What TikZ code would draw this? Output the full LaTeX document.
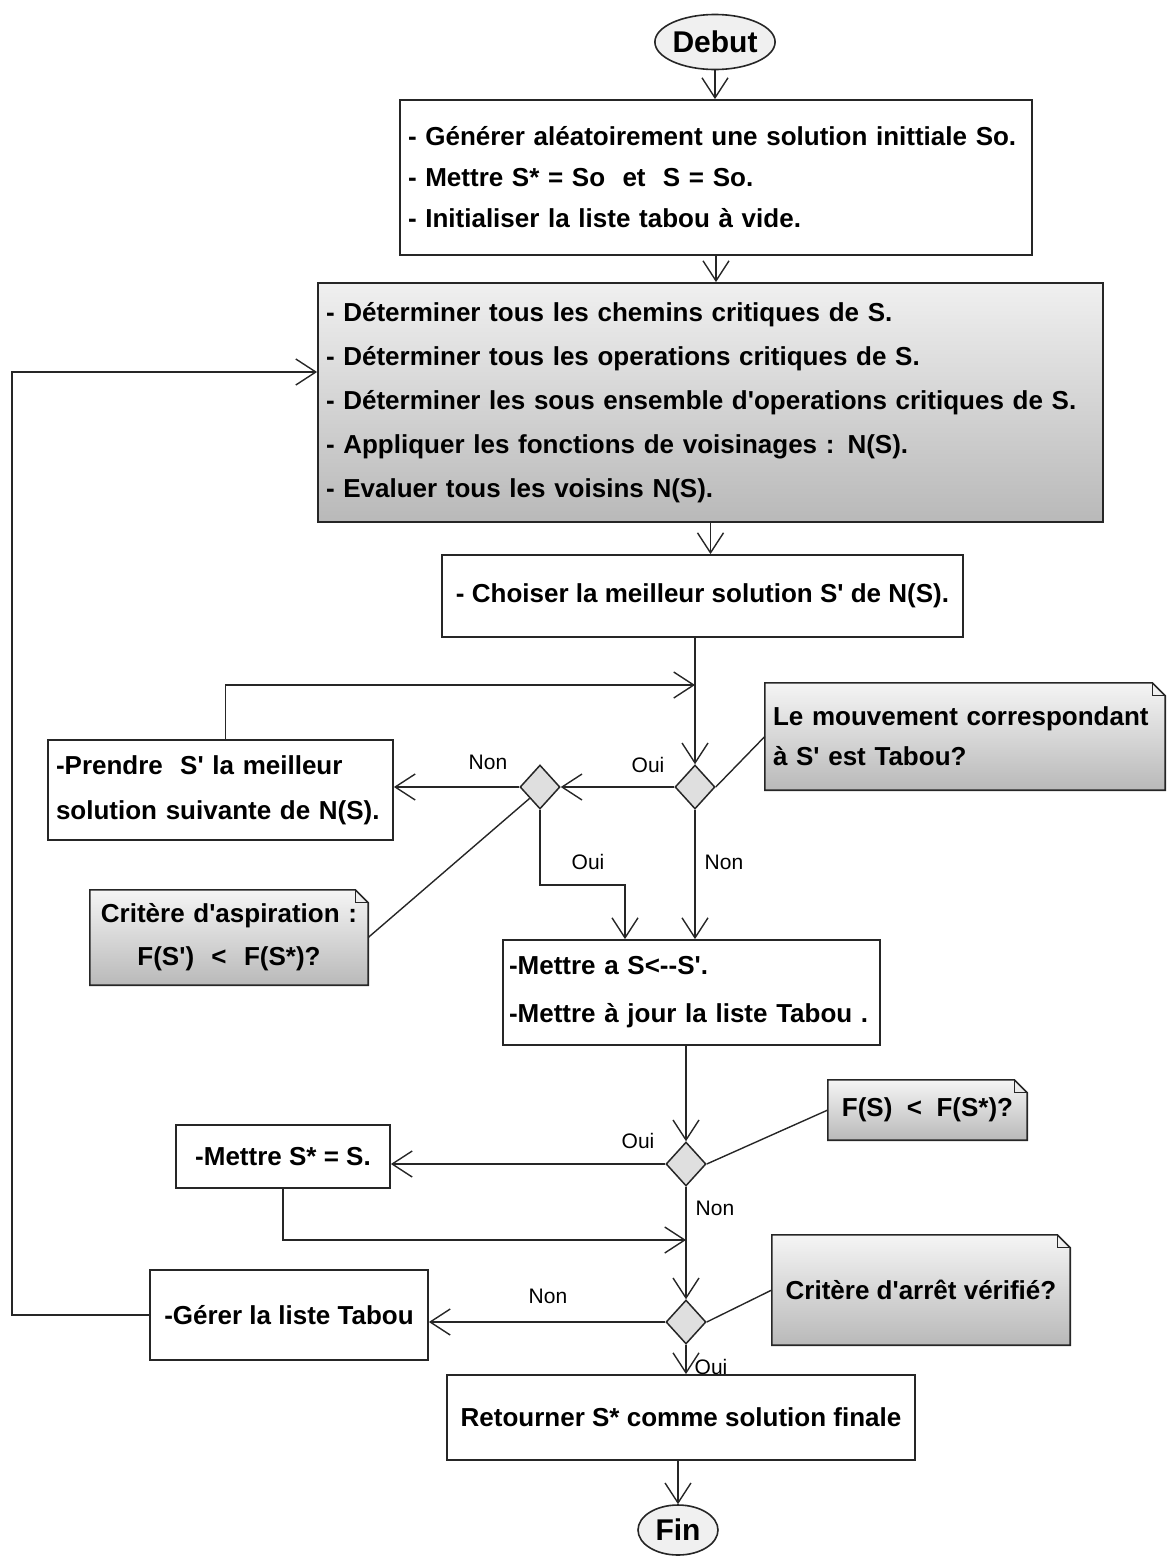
\documentclass[tikz,border=0pt]{standalone}
\usepackage{fontspec}
\newfontfamily\lsans{Liberation Sans}
\usetikzlibrary{shapes.geometric, arrows.meta, calc, backgrounds}

% dog-eared note outline with a vertical grey shading, drawn behind the node
\newcommand\drawnote[1]{%
  \begin{scope}[on background layer]
    \shadedraw[top color=gray!8, bottom color=gray!55, draw=black!85, line width=1.6pt]
      (#1.north west) -- ($(#1.north east)+(-13,0)$) -- ($(#1.north east)+(0,13)$)
      -- (#1.south east) -- (#1.south west) -- cycle;
    \draw[black!85, line width=1pt]
      ($(#1.north east)+(-13,0)$) -- ($(#1.north east)+(-13,13)$) -- ($(#1.north east)+(0,13)$);
  \end{scope}}

\begin{document}
\begin{tikzpicture}[x=1pt, y=-1pt,
  txt/.style={font=\lsans\bfseries\fontsize{26}{43}\selectfont},
  box/.style={draw=black!85, line width=1.8pt, fill=white, inner xsep=8pt, inner ysep=0pt, txt},
  note/.style={inner xsep=8pt, inner ysep=0pt, txt},
  lbl/.style={font=\lsans\fontsize{21}{24}\selectfont},
  decision/.style={diamond, draw=black!85, line width=1.5pt, fill=gray!25,
    minimum width=40pt, minimum height=44pt, inner sep=0pt},
  terminal/.style={ellipse, draw=black!85, line width=1.6pt, fill=gray!12, inner sep=0pt,
    font=\lsans\bfseries\fontsize{30}{32}\selectfont},
  arr/.style={draw=black!85, line width=1.4pt,
    -{Straight Barb[length=20pt, width=26pt, line width=1.4pt]}},
  link/.style={draw=black!85, line width=1.4pt}
]
\useasboundingbox (0,0) rectangle (1169,1556);

% ---- start / end
\node[terminal, minimum width=118pt, minimum height=55pt] (deb) at (715,42) {Debut};
\node[terminal, minimum width=80pt, minimum height=50pt] (fin) at (678,1530) {Fin};

% ---- process boxes
\node[box, text width=616pt, minimum height=155pt, align=left, font=\lsans\bfseries\fontsize{26}{41}\selectfont]
  (b1) at (716,177.5)
  {- Générer aléatoirement une solution inittiale So.\\
   - Mettre S* = So\ \ et\ \ S = So.\\
   - Initialiser la liste tabou à vide.};

\node[box, text width=769pt, minimum height=239pt, align=left,
  top color=gray!12, bottom color=gray!55, font=\lsans\bfseries\fontsize{26}{44}\selectfont]
  (b2) at (710.5,402.5)
  {- Déterminer tous les chemins critiques de S.\\
   - Déterminer tous les operations critiques de S.\\
   - Déterminer les sous ensemble d'operations critiques de S.\\
   - Appliquer les fonctions de voisinages : N(S).\\
   - Evaluer tous les voisins N(S).};

\node[box, minimum width=521pt, minimum height=82pt] (b3) at (702.5,596)
  {- Choiser la meilleur solution S' de N(S).};

\node[box, text width=329pt, minimum height=100pt, align=left, font=\lsans\bfseries\fontsize{26}{45}\selectfont]
  (p) at (220.5,790)
  {-Prendre\ \ S' la meilleur\\ solution suivante de N(S).};

\node[box, text width=365pt, inner xsep=6pt, minimum height=105pt, align=left, font=\lsans\bfseries\fontsize{26}{48}\selectfont]
  (b4) at (691.5,992.5)
  {-Mettre a S<-{}-S'.\\ -Mettre à jour la liste Tabou .};

\node[box, minimum width=214pt, minimum height=63pt] (b5) at (283,1156.5) {-Mettre S* = S.};
\node[box, minimum width=278pt, minimum height=90pt] (b6) at (289,1315) {-Gérer la liste Tabou};
\node[box, minimum width=468pt, minimum height=85pt] (b7) at (681,1417.5) {Retourner S* comme solution finale};

% ---- decisions
\node[decision] (d1) at (695,787) {};
\node[decision] (d2) at (540,787) {};
\node[decision] (d3) at (686,1164) {};
\node[decision] (d4) at (686,1322) {};

% ---- notes
\node[note, text width=384pt, minimum height=107pt, align=left, font=\lsans\bfseries\fontsize{26}{40}\selectfont]
  (n1) at (965,736.5) {Le mouvement correspondant\\ à S' est Tabou?};
\node[note, text width=268pt, inner xsep=5pt, minimum height=95pt, align=center, font=\lsans\bfseries\fontsize{26}{43}\selectfont]
  (n2) at (229,937.5) {Critère d'aspiration :\\ F(S')\ \ <\ \ F(S*)?};
\node[note, minimum width=199pt, minimum height=60pt] (n3) at (927.5,1110) {F(S)\ \ <\ \ F(S*)?};
\node[note, minimum width=298pt, minimum height=110pt] (n4) at (921,1290) {Critère d'arrêt vérifié?};
\drawnote{n1}
\drawnote{n2}
\drawnote{n3}
\drawnote{n4}

% ---- junction points
\coordinate (j1) at (695,685);
\coordinate (k) at (625,885);
\coordinate (j2) at (686,1240);
\coordinate (lp) at (12,372);

% ---- main flow
\draw[arr] (deb.south) -- (deb.south |- b1.north);
\draw[arr] (b1.south) -- (b1.south |- b2.north);
\draw[arr] (b2.south) -- (b2.south |- b3.north);
\draw[arr] (b3.south -| d1) -- (d1.north);
\draw[arr] ([xshift=5pt]p.north) |- (j1);
\draw[arr] (d1.west) -- (d2.east);
\draw[arr] (d2.west) -- (d2.west -| p.east);
\draw[arr] (d2.south) |- (k) -- (k |- b4.north);
\draw[arr] (d1.south) -- (d1.south |- b4.north);
\draw[arr] (b4.south -| d3) -- (d3.north);
\draw[arr] (d3.west) -- (d3.west -| b5.east);
\draw[arr] (b5.south) |- (j2);
\draw[arr] (d3.south) -- (d4.north);
\draw[arr] (d4.west) -- (d4.west -| b6.east);
\draw[arr] (b6.west) -| (lp) -- (lp -| b2.west);
\draw[arr] (d4.south) -- (d4.south |- b7.north);
\draw[arr] (b7.south -| fin) -- (fin.north);

% ---- note anchors
\draw[link] (d1.east) -- (n1.west);
\draw[link] (d2.south west) -- (n2.east);
\draw[link] (d3.east) -- (n3.west);
\draw[link] (d4.east) -- (n4.west);

% ---- branch labels
\node[lbl] (l1) at (648,765) {Oui};
\node[lbl] (l2) at (488,762) {Non};
\node[lbl] (l3) at (588,862) {Oui};
\node[lbl] (l4) at (724,862) {Non};
\node[lbl] (l5) at (638,1141) {Oui};
\node[lbl] (l6) at (715,1208) {Non};
\node[lbl] (l7) at (548,1296) {Non};
\node[lbl] (l8) at (711,1367) {Oui};
\end{tikzpicture}
\end{document}
